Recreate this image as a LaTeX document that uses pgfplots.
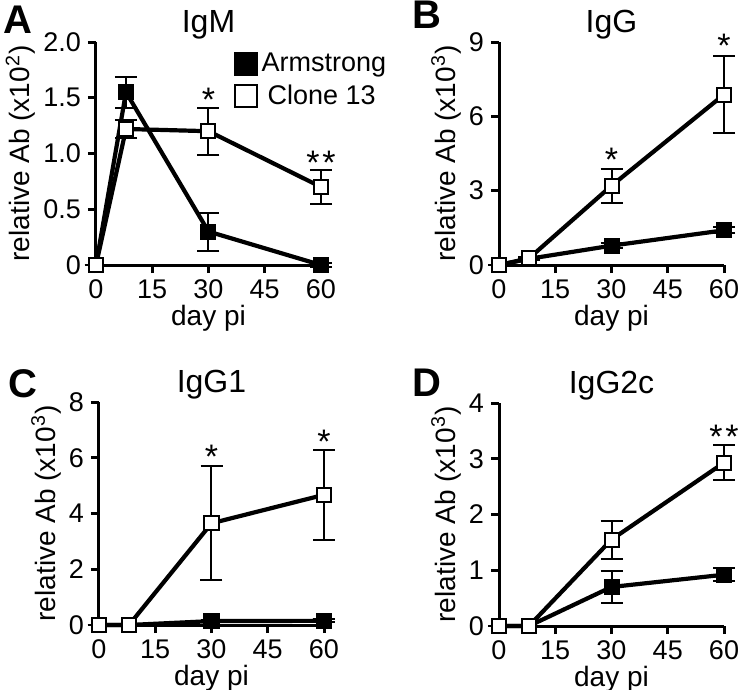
\documentclass[border=0pt]{standalone}
\usepackage{pgfplots}
\pgfplotsset{compat=1.18}
\usepackage{fontspec}
\setmainfont{Liberation Sans}
\pgfplotsset{
 panel/.style={
  width=112.5pt, height=111.5pt, scale only axis,
  axis lines=left, axis line style={-, line width=1.5pt},
  xmin=0, xmax=60, ymin=0,
  xtick={0,15,30,45,60},
  tick style={black, line width=1.5pt},
  major tick length=4pt, tick align=outside,
  tick label style={font=\fontsize{13.5}{13.5}\selectfont},
  /pgf/number format/assume math mode=true,
  xlabel={day pi},
  label style={font=\fontsize{14}{14}\selectfont},
  xlabel style={yshift=4pt},
  ylabel style={yshift=-3pt},
  title style={at={(0.5,1)}, anchor=base, yshift=-1pt, font=\fontsize{16}{16}\selectfont},
  clip=false, axis on top,
  anchor=south west,
 },
 arm/.style={black, line width=2.1pt, mark=square*, mark size=3.5pt,
   mark options={solid, fill=black, line width=1pt},
   error bars/y dir=both, error bars/y explicit,
   error bars/error bar style={line width=1pt},
   error bars/error mark options={rotate=90, mark size=5.5pt, line width=1pt},
   legend image code/.code={\draw[line width=1pt, fill=black] (0pt,-5.5pt) rectangle (11pt,5.5pt);}},
 clo/.style={black, line width=2.1pt, mark=square*, mark size=3.5pt,
   mark options={solid, fill=white, line width=1pt},
   error bars/y dir=both, error bars/y explicit,
   error bars/error bar style={line width=1pt},
   error bars/error mark options={rotate=90, mark size=5.5pt, line width=1pt},
   legend image code/.code={\draw[line width=1pt, fill=white] (0pt,-5.5pt) rectangle (11pt,5.5pt);}},
}
\tikzset{star/.style={font=\fontsize{17}{17}\selectfont, anchor=base, yshift=-9pt}}
\begin{document}
\begin{tikzpicture}
\useasboundingbox (0,0) rectangle (370pt,-345pt);
% Panel A
\begin{axis}[panel, at={(48pt,-132.5pt)}, title={IgM}, ymax=2,
  ytick={0,0.5,1,1.5,2}, yticklabels={0,0.5,1.0,1.5,2.0},
  ylabel={relative Ab (x10\textsuperscript{2})},
  legend style={at={(axis cs:36.6,1.94)}, anchor=north west, draw=none, fill=none,
    font=\fontsize{13.5}{13.5}\selectfont, inner sep=0pt, row sep=1pt},
  legend cell align=left]
\addplot[arm] table[x=x,y=y,y error=e] {
x y e
0 0 0
8 1.55 0.14
30 0.30 0.17
60 0.0 0.02
};
\addplot[clo] table[x=x,y=y,y error=e] {
x y e
0 0 0
8 1.22 0.08
30 1.20 0.21
60 0.70 0.15
};
\legend{Armstrong,\hspace{3pt}Clone 13}
\node[star] at (axis cs:30,1.54) {*};
\node[star] at (axis cs:60,0.97) {*\hspace{1.5pt}*};
\end{axis}
% Panel B
\begin{axis}[panel, at={(249.5pt,-132.5pt)}, title={IgG}, ymax=9,
  ytick={0,3,6,9},
  ylabel={relative Ab (x10\textsuperscript{3})}]
\addplot[arm] table[x=x,y=y,y error=e] {
x y e
0 0 0
8 0.25 0.05
30 0.78 0.10
60 1.40 0.12
};
\addplot[clo] table[x=x,y=y,y error=e] {
x y e
0 0 0
8 0.27 0.05
30 3.20 0.69
60 6.88 1.56
};
\node[star] at (axis cs:30,4.5) {*};
\node[star] at (axis cs:60,9.1) {*};
\end{axis}
% Panel C
\begin{axis}[panel, at={(49.5pt,-312.5pt)}, title={IgG1}, ymax=8,
  ytick={0,2,4,6,8},
  ylabel={relative Ab (x10\textsuperscript{3})}]
\addplot[arm] table[x=x,y=y,y error=e] {
x y e
0 0 0
8 0 0
30 0.14 0.05
60 0.15 0.05
};
\addplot[clo] table[x=x,y=y,y error=e] {
x y e
0 0 0
8 0 0
30 3.65 2.05
60 4.67 1.62
};
\node[star] at (axis cs:30,6.27) {*};
\node[star] at (axis cs:60,6.8) {*};
\end{axis}
% Panel D
\begin{axis}[panel, at={(249.5pt,-313pt)}, title={IgG2c}, ymax=4,
  ytick={0,1,2,3,4},
  ylabel={relative Ab (x10\textsuperscript{3})}]
\addplot[arm] table[x=x,y=y,y error=e] {
x y e
0 0 0
8 0 0
30 0.70 0.29
60 0.92 0.12
};
\addplot[clo] table[x=x,y=y,y error=e] {
x y e
0 0 0
8 0 0
30 1.55 0.34
60 2.93 0.31
};
\node[star] at (axis cs:60,3.5) {*\hspace{1.5pt}*};
\end{axis}
% panel letters
\node[font=\bfseries\fontsize{20}{20}\selectfont] at (9pt,-10pt) {A};
\node[font=\bfseries\fontsize{20}{20}\selectfont] at (213.5pt,-7.5pt) {B};
\node[font=\bfseries\fontsize{20}{20}\selectfont] at (11.5pt,-191.75pt) {C};
\node[font=\bfseries\fontsize{20}{20}\selectfont] at (213.5pt,-191.5pt) {D};
\end{tikzpicture}
\end{document}
